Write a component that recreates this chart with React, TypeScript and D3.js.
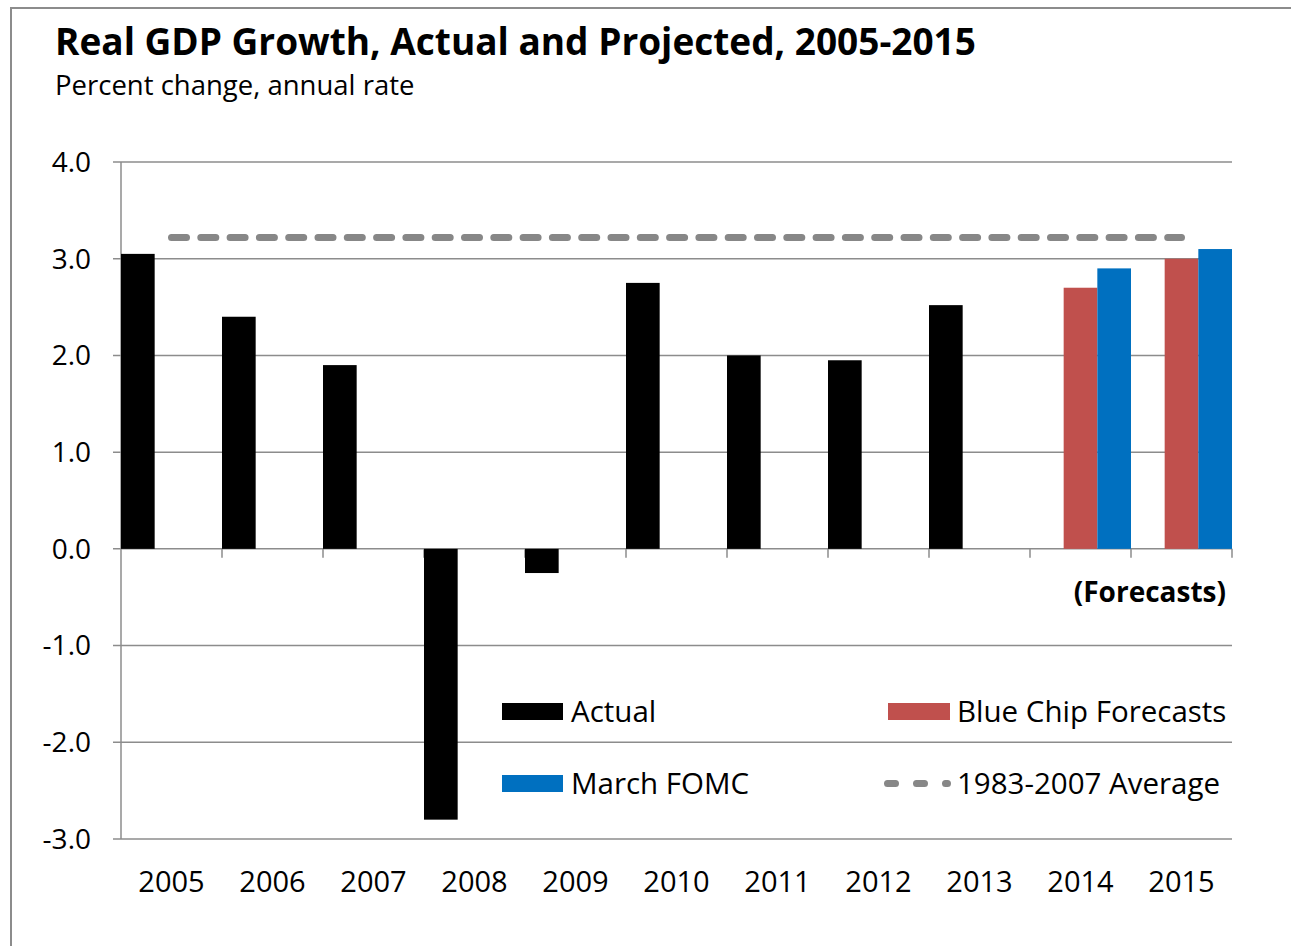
import React from "react";
import * as d3 from "d3";

const years = ["2005","2006","2007","2008","2009","2010","2011","2012","2013","2014","2015"];
const actual: (number | null)[] = [3.05, 2.4, 1.9, -2.8, -0.25, 2.75, 2.0, 1.95, 2.52, null, null];
const blueChip: (number | null)[] = [null, null, null, null, null, null, null, null, null, 2.7, 3.0];
const fomc: (number | null)[] = [null, null, null, null, null, null, null, null, null, 2.9, 3.1];
const average = 3.22;
const yTicks = [-3, -2, -1, 0, 1, 2, 3, 4];

const seriesNames = ["Actual", "Blue Chip Forecasts", "March FOMC"];
const seriesData = [actual, blueChip, fomc];
const colors = ["#000000", "#C0504D", "#0070C0"];

const W = 1291, H = 946;
const left = 121, right = 1232, top = 162, bottom = 839;
const FONT = "'Open Sans', sans-serif";

export default function App() {
  const x = d3.scaleBand<string>().domain(years).range([left, right]).padding(0);
  const slot = d3.scaleBand<number>().domain([0, 1, 2]).range([0, x.bandwidth()]).padding(0);
  const y = d3.scaleLinear().domain([-3, 4]).range([bottom, top]);
  const grid = "#8c8c8c";
  const avgLine = d3.line<number>()([
    [x(years[0])! + x.bandwidth() / 2, y(average)],
    [x(years[years.length - 1])! + x.bandwidth() / 2, y(average)],
  ] as any);

  return (
    <svg width={W} height={H} style={{ position: "absolute", left: 0, top: 0, background: "#fff" }} fontFamily={FONT}>
      <rect x={11} y={8} width={W} height={H} fill="#fff" stroke="#8c8c8c" strokeWidth={2} />
      <text x={55} y={55} fontSize={37} fontWeight="bold" fill="#000">Real GDP Growth, Actual and Projected, 2005-2015</text>
      <text x={55} y={95} fontSize={27.5} fill="#000">Percent change, annual rate</text>

      {yTicks.map((t) => (
        <g key={t}>
          <line x1={113} x2={right} y1={y(t)} y2={y(t)} stroke={grid} strokeWidth={1.5} />
          <text x={91} y={y(t)} dy="0.35em" textAnchor="end" fontSize={28}>{t.toFixed(1)}</text>
        </g>
      ))}
      <line x1={left} x2={left} y1={top} y2={bottom} stroke={grid} strokeWidth={1.5} />
      {years.map((yr, i) => (
        <line key={"t" + yr} x1={x(yr)! + x.bandwidth()} x2={x(yr)! + x.bandwidth()} y1={y(0)} y2={y(0) + 9} stroke={grid} strokeWidth={1.5} />
      ))}

      {seriesData.map((s, si) =>
        s.map((v, i) =>
          v == null ? null : (
            <rect key={si + "-" + i}
              x={x(years[i])! + slot(si)!}
              width={slot.bandwidth()}
              y={Math.min(y(v), y(0))}
              height={Math.abs(y(v) - y(0))}
              fill={colors[si]} />
          )
        )
      )}

      <path d={avgLine!} stroke="#878787" strokeWidth={7} strokeLinecap="round" strokeDasharray="15 14.3" fill="none" />

      {years.map((yr) => (
        <text key={"l" + yr} x={x(yr)! + x.bandwidth() / 2} y={892} textAnchor="middle" fontSize={29}>{yr}</text>
      ))}

      <text x={1226} y={602} textAnchor="end" fontSize={28} fontWeight="bold">(Forecasts)</text>

      {/* Legend */}
      <rect x={502} y={703} width={61} height={17} fill={colors[0]} />
      <text x={571} y={711.5} dy="0.35em" fontSize={29.5}>{seriesNames[0]}</text>
      <rect x={888} y={703} width={62} height={17} fill={colors[1]} />
      <text x={957} y={711.5} dy="0.35em" fontSize={29.5}>{seriesNames[1]}</text>
      <rect x={502} y={775} width={61} height={17} fill={colors[2]} />
      <text x={571} y={783.5} dy="0.35em" fontSize={29.5}>{seriesNames[2]}</text>
      <path d={`M887.5,783.5L947.5,783.5`} stroke="#878787" strokeWidth={7} strokeLinecap="round" strokeDasharray="8 21" fill="none" />
      <text x={957} y={783.5} dy="0.35em" fontSize={29.5}>1983-2007 Average</text>
    </svg>
  );
}
